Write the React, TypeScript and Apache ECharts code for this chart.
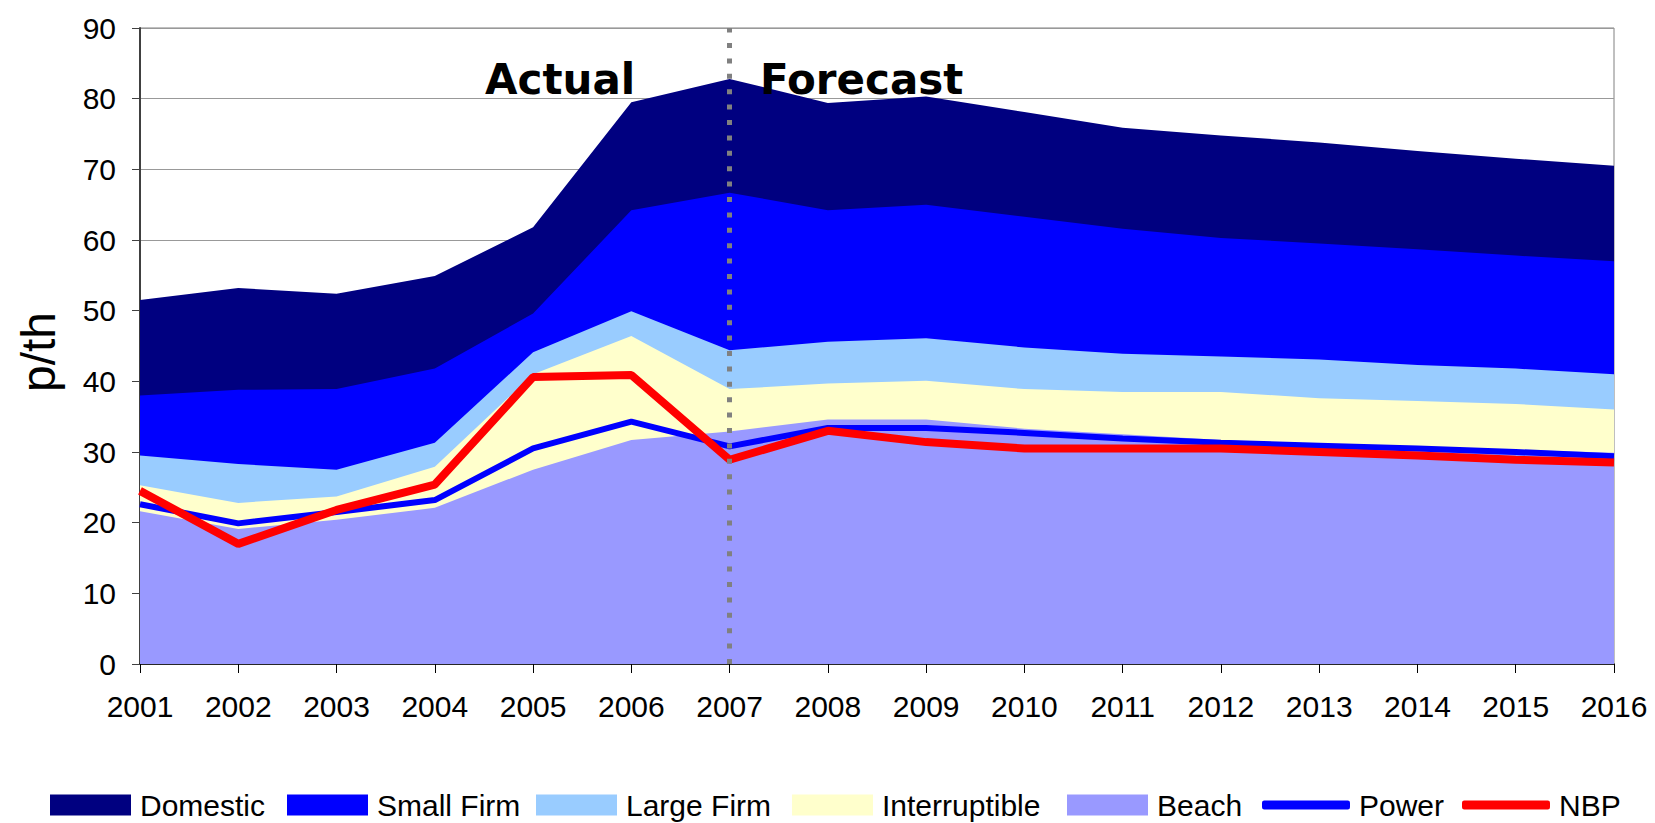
import React, { useEffect, useRef } from "react";
import * as echarts from "echarts";

const years = ["2001","2002","2003","2004","2005","2006","2007","2008","2009","2010","2011","2012","2013","2014","2015","2016"];
const yTicks = [0, 90, 10];

// Cumulative tops of the stacked bands (p/th)
const domesticTop = [51.5, 53.2, 52.4, 54.9, 61.8, 79.5, 82.8, 79.4, 80.3, 78.1, 75.9, 74.8, 73.8, 72.6, 71.5, 70.5];
const smallFirmTop = [38.0, 38.8, 38.9, 41.8, 49.6, 64.2, 66.7, 64.2, 65.0, 63.3, 61.6, 60.3, 59.5, 58.7, 57.8, 57.0];
const largeFirmTop = [29.5, 28.3, 27.5, 31.3, 44.1, 49.9, 44.4, 45.6, 46.1, 44.8, 43.9, 43.5, 43.1, 42.3, 41.8, 41.0];
const interruptibleTop = [25.3, 22.8, 23.7, 27.9, 41.0, 46.4, 38.9, 39.7, 40.1, 38.9, 38.5, 38.5, 37.6, 37.2, 36.8, 36.0];
const beachTop = [21.6, 19.1, 20.4, 22.1, 27.5, 31.7, 32.9, 34.6, 34.6, 33.3, 32.5, 31.7, 31.1, 30.7, 30.3, 29.9];
const power = [22.6, 19.9, 21.5, 23.2, 30.5, 34.3, 30.8, 33.4, 33.4, 32.7, 31.9, 31.3, 30.9, 30.5, 30.0, 29.4];
const nbp = [24.5, 17.0, 21.8, 25.4, 40.6, 40.9, 28.9, 33.0, 31.4, 30.5, 30.5, 30.5, 30.0, 29.5, 28.9, 28.5];

const dividerYear = "2007";
const labels = { actual: "Actual", forecast: "Forecast", yName: "p/th" };

const FONT = "'Liberation Sans', Arial, sans-serif";

export default function App() {
  const ref = useRef<HTMLDivElement>(null);
  useEffect(() => {
    document.body.style.margin = "0";
    const chart = echarts.init(ref.current!, null, { renderer: "svg" });
    const area = (name: string, data: number[], color: string) => ({
      name,
      type: "line",
      data,
      symbol: "none",
      lineStyle: { width: 0, color },
      itemStyle: { color },
      areaStyle: { color, opacity: 1 },
      silent: true,
    });
    const legendBase = {
      top: 785,
      itemGap: 0,
      padding: 0,
      selectedMode: false,
      textStyle: { fontSize: 30, color: "#000", fontFamily: FONT, padding: [0, 0, 0, 4], lineHeight: 40 },
    };
    const areaLegend = (name: string, left: number) => ({
      ...legendBase,
      data: [name],
      left,
      icon: "rect",
      itemWidth: 81,
      itemHeight: 21,
    });
    const lineLegend = (name: string, left: number) => ({
      ...legendBase,
      data: [name],
      left,
      icon: "roundRect",
      itemWidth: 88,
      itemHeight: 9,
    });
    chart.setOption({
      animation: false,
      grid: { left: 140, right: 41, top: 28, bottom: 159, show: true, borderColor: "#808080", borderWidth: 1, backgroundColor: "transparent" },
      legend: [
        areaLegend("Domestic", 50),
        areaLegend("Small Firm", 287),
        areaLegend("Large Firm", 536),
        areaLegend("Interruptible", 792),
        areaLegend("Beach", 1067),
        lineLegend("Power", 1262),
        lineLegend("NBP", 1462),
      ],
      xAxis: {
        type: "category",
        data: years,
        boundaryGap: false,
        axisLine: { show: true, lineStyle: { color: "#000", width: 1.5 } },
        axisTick: { show: true, inside: false, length: 9, lineStyle: { color: "#000", width: 1 } },
        axisLabel: { fontSize: 30, color: "#000", fontFamily: FONT, margin: 27 },
        splitLine: { show: false },
      },
      yAxis: {
        type: "value",
        min: yTicks[0],
        max: yTicks[1],
        interval: yTicks[2],
        axisLine: { show: true, lineStyle: { color: "#404040", width: 2 } },
        axisTick: { show: true, inside: false, length: 8, lineStyle: { color: "#404040" } },
        axisLabel: { fontSize: 30, color: "#000", fontFamily: FONT, margin: 24 },
        splitLine: { show: true, lineStyle: { color: "#999", width: 1 } },
      },
      series: [
        area("Domestic", domesticTop, "#000080"),
        area("Small Firm", smallFirmTop, "#0000FF"),
        area("Large Firm", largeFirmTop, "#99CCFF"),
        area("Interruptible", interruptibleTop, "#FFFFCC"),
        area("Beach", beachTop, "#9999FF"),
        {
          name: "Power",
          type: "line",
          data: power,
          symbol: "none",
          lineStyle: { width: 6, color: "#0000FF" },
          itemStyle: { color: "#0000FF" },
          silent: true,
        },
        {
          name: "NBP",
          type: "line",
          data: nbp,
          symbol: "none",
          lineStyle: { width: 8, color: "#FF0000" },
          itemStyle: { color: "#FF0000" },
          silent: true,
          z: 3,
          markLine: {
            silent: true,
            symbol: "none",
            label: { show: false },
            lineStyle: { color: "#808080", width: 5, type: [5, 10.4] },
            data: [{ xAxis: dividerYear }],
          },
        },
      ],
      graphic: [
        {
          type: "text",
          left: 485,
          top: 58,
          style: { text: labels.actual, fontSize: 42, fontWeight: "bold", fontFamily: "'DejaVu Sans', sans-serif", fill: "#000" },
          z: 100,
        },
        {
          type: "text",
          left: 760,
          top: 58,
          style: { text: labels.forecast, fontSize: 42, fontWeight: "bold", fontFamily: "'DejaVu Sans', sans-serif", fill: "#000" },
          z: 100,
        },
        {
          type: "text",
          x: 38,
          y: 352,
          rotation: Math.PI / 2,
          style: { text: labels.yName, fontSize: 48, fontFamily: FONT, fill: "#000", align: "center", verticalAlign: "middle" },
        },
      ],
    });
    return () => chart.dispose();
  }, []);
  return <div ref={ref} style={{ width: 1655, height: 823 }} />;
}
